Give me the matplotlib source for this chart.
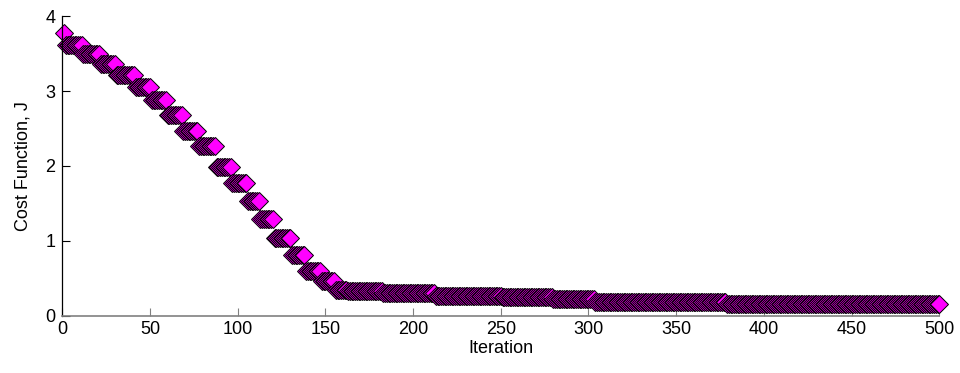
import numpy as np
import matplotlib
matplotlib.use("Agg")
import matplotlib.pyplot as plt

plt.rcParams['font.family'] = ['Liberation Sans', 'DejaVu Sans']

# Staircase: last iteration of each step and its cost level
step_end_iter = [1, 11, 21, 30, 41, 50, 59, 68, 77, 87, 96, 105, 112, 120, 130,
                 138, 147, 155, 162, 182, 212, 250, 279, 303, 378, 500]
step_level = [3.78, 3.61, 3.50, 3.36, 3.21, 3.06, 2.88, 2.68, 2.47, 2.27, 1.99,
              1.77, 1.53, 1.29, 1.04, 0.81, 0.60, 0.46, 0.35, 0.33, 0.30, 0.26,
              0.25, 0.22, 0.18, 0.155]

x_ticks = [0, 50, 100, 150, 200, 250, 300, 350, 400, 450, 500]
y_ticks = [0, 1, 2, 3, 4]

lengths = np.diff([0] + step_end_iter)
cost = np.repeat(step_level, lengths)
iters = np.arange(1, len(cost) + 1)

fig = plt.figure(figsize=(9.6, 3.73), dpi=100)
ax = fig.add_axes([0.0649, 0.153, 0.9135, 0.804])

ax.plot(iters, cost, linestyle='none', marker='D', markersize=9.6,
        markerfacecolor='#ff00ff', markeredgecolor='black', markeredgewidth=0.7,
        clip_on=False)

ax.set_xlim(0, 500)
ax.set_ylim(0, 4)
ax.set_xticks(x_ticks)
ax.set_yticks(y_ticks)
ax.set_xlabel('Iteration', fontsize=13, labelpad=1)
ax.set_ylabel('Cost Function, J', fontsize=13, labelpad=10)

for s in ['top', 'right']:
    ax.spines[s].set_visible(False)
ax.spines['left'].set_color('black')
ax.spines['bottom'].set_color('#808080')
ax.spines['left'].set_linewidth(0.9)
ax.spines['bottom'].set_linewidth(1.2)

ax.tick_params(axis='both', direction='in', length=6, labelsize=13)
ax.tick_params(axis='x', colors='#808080', labelcolor='black', pad=4)
ax.tick_params(axis='y', colors='black', pad=5)

fig.savefig('out.png', dpi=100)
